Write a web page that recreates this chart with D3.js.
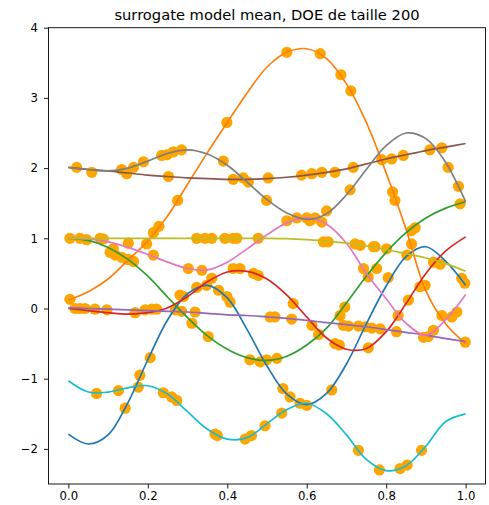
<!DOCTYPE html>
<html>
<head>
<meta charset="utf-8">
<script src="https://cdn.jsdelivr.net/npm/d3@7"></script>
<style>
  html, body { margin: 0; padding: 0; background: #fff; }
  svg { display: block; font-family: "DejaVu Sans", sans-serif; }
</style>
</head>
<body>
<svg id="chart" width="489" height="505"></svg>
<script>
// Evaluation grid of the surrogate means
const gridX = [0, 0.05, 0.1, 0.15, 0.2, 0.25, 0.3, 0.35, 0.4, 0.45, 0.5,
               0.55, 0.6, 0.65, 0.7, 0.75, 0.8, 0.85, 0.9, 0.95, 1.0];

// Predicted mean of each output on the grid
const blueMean   = [-1.79, -1.93, -1.80, -1.34, -0.73, -0.16, 0.21, 0.33, 0.15, -0.30, -0.82, -1.22, -1.37, -1.21, -0.79, -0.22, 0.32, 0.74, 0.88, 0.67, 0.33];
const orangeMean = [0.12, 0.24, 0.42, 0.69, 0.96, 1.32, 1.77, 2.22, 2.65, 3.07, 3.44, 3.65, 3.70, 3.56, 3.20, 2.65, 1.93, 1.13, 0.25, -0.22, -0.50];
const greenMean  = [1.0, 0.97, 0.87, 0.70, 0.46, 0.16, -0.13, -0.39, -0.58, -0.70, -0.74, -0.68, -0.52, -0.28, 0.08, 0.46, 0.80, 1.08, 1.29, 1.43, 1.52];
const redMean    = [0.0, -0.03, -0.06, -0.08, -0.06, 0.01, 0.17, 0.38, 0.52, 0.53, 0.42, 0.19, -0.12, -0.42, -0.58, -0.57, -0.33, 0.07, 0.50, 0.82, 1.02];
const purpleMean = [0.01, 0.0, -0.01, -0.02, -0.03, -0.04, -0.05, -0.07, -0.09, -0.10, -0.12, -0.14, -0.17, -0.20, -0.23, -0.26, -0.30, -0.34, -0.38, -0.43, -0.47];
const brownMean  = [2.01, 1.98, 1.96, 1.93, 1.90, 1.88, 1.86, 1.85, 1.84, 1.84, 1.85, 1.87, 1.90, 1.94, 1.99, 2.06, 2.13, 2.19, 2.25, 2.30, 2.35];
const pinkMean   = [1.0, 0.99, 0.95, 0.87, 0.77, 0.66, 0.57, 0.55, 0.66, 0.85, 1.05, 1.22, 1.29, 1.20, 0.93, 0.50, 0.14, -0.21, -0.38, -0.16, 0.20];
const grayMean   = [2.01, 1.98, 1.96, 2.00, 2.10, 2.21, 2.26, 2.20, 2.04, 1.80, 1.55, 1.36, 1.27, 1.35, 1.62, 1.98, 2.32, 2.50, 2.42, 2.08, 1.52];
const oliveMean  = [1.0, 1.0, 1.0, 1.0, 1.0, 1.0, 1.0, 1.0, 1.0, 1.0, 1.0, 0.995, 0.98, 0.96, 0.93, 0.89, 0.84, 0.78, 0.72, 0.64, 0.53];
const cyanMean   = [-1.03, -1.19, -1.19, -1.13, -1.10, -1.22, -1.47, -1.72, -1.86, -1.84, -1.64, -1.44, -1.35, -1.50, -1.80, -2.15, -2.31, -2.24, -1.96, -1.61, -1.50];

// Design of experiments: observed (x, y) samples of each output
const blueDoe   = [[0.143,-1.42],[0.180,-0.95],[0.206,-0.70],[0.290,0.17],[0.323,0.30],[0.348,0.33],[0.378,0.26],[0.399,0.17],[0.407,0.09],[0.540,-1.14],[0.558,-1.26],[0.663,-1.16],[0.805,0.44],[0.852,0.76],[0.990,0.43],[0.998,0.36]];
const orangeDoe = [[0.004,0.13],[0.147,0.70],[0.197,0.92],[0.214,1.08],[0.228,1.17],[0.275,1.54],[0.399,2.65],[0.550,3.65],[0.634,3.63],[0.686,3.33],[0.711,3.10],[0.816,1.66],[0.822,1.54],[0.864,0.92],[0.940,-0.10],[0.999,-0.48]];
const greenDoe  = [[0.046,0.98],[0.105,0.80],[0.113,0.85],[0.118,0.76],[0.134,0.73],[0.151,0.70],[0.164,0.67],[0.311,-0.21],[0.352,-0.40],[0.457,-0.73],[0.483,-0.76],[0.499,-0.73],[0.525,-0.71],[0.684,-0.10],[0.696,0.02],[0.776,0.57],[0.864,1.11],[0.873,1.15],[0.986,1.49]];
const redDoe    = [[0.168,-0.06],[0.193,-0.02],[0.281,0.19],[0.361,0.43],[0.415,0.57],[0.432,0.57],[0.466,0.50],[0.478,0.47],[0.566,0.07],[0.613,-0.24],[0.630,-0.37],[0.671,-0.50],[0.682,-0.52],[0.755,-0.56],[0.830,-0.10],[0.856,0.12],[0.885,0.31],[0.898,0.33]];
const purpleDoe = [[0.017,0.0],[0.029,0.0],[0.042,0.0],[0.067,-0.01],[0.097,-0.02],[0.210,-0.01],[0.222,-0.01],[0.269,-0.02],[0.285,-0.04],[0.319,-0.05],[0.508,-0.12],[0.520,-0.12],[0.562,-0.15],[0.692,-0.24],[0.705,-0.25],[0.730,-0.25],[0.747,-0.26],[0.764,-0.28],[0.785,-0.29],[0.826,-0.33]];
const brownDoe  = [[0.021,2.01],[0.059,1.94],[0.134,1.98],[0.147,1.92],[0.252,1.88],[0.415,1.84],[0.440,1.86],[0.503,1.86],[0.587,1.90],[0.613,1.92],[0.638,1.94],[0.671,1.94],[0.717,2.01],[0.789,2.12],[0.814,2.13],[0.843,2.18],[0.910,2.26],[0.940,2.29]];
const grayDoe   = [[0.164,2.01],[0.189,2.09],[0.235,2.18],[0.248,2.19],[0.264,2.23],[0.285,2.26],[0.390,2.10],[0.453,1.80],[0.499,1.54],[0.575,1.29],[0.600,1.29],[0.621,1.29],[0.650,1.39],[0.709,1.69],[0.956,2.01],[0.982,1.74]];
const pinkDoe   = [[0.151,0.93],[0.214,0.76],[0.302,0.57],[0.336,0.545],[0.550,1.25],[0.608,1.25],[0.638,1.23],[0.743,0.57],[0.755,0.45],[0.894,-0.41],[0.906,-0.40],[0.919,-0.31],[0.965,-0.12],[0.978,-0.05]];
const oliveDoe  = [[0.004,1.0],[0.029,1.0],[0.080,1.0],[0.088,0.99],[0.323,1.0],[0.344,1.0],[0.361,1.0],[0.394,1.0],[0.415,1.0],[0.424,1.0],[0.478,1.0],[0.642,0.95],[0.654,0.95],[0.722,0.92],[0.735,0.90],[0.768,0.88],[0.772,0.88],[0.801,0.85],[0.919,0.66],[0.936,0.63]];
const cyanDoe   = [[0.071,-1.21],[0.126,-1.17],[0.176,-1.12],[0.239,-1.20],[0.260,-1.26],[0.273,-1.31],[0.369,-1.79],[0.375,-1.81],[0.445,-1.86],[0.461,-1.81],[0.495,-1.67],[0.537,-1.49],[0.583,-1.35],[0.600,-1.38],[0.730,-2.02],[0.783,-2.30],[0.835,-2.28],[0.853,-2.23],[0.889,-2.02]];

const lineColors = ["#1f77b4", "#ff7f0e", "#2ca02c", "#d62728", "#9467bd",
                    "#8c564b", "#e377c2", "#7f7f7f", "#bcbd22", "#17becf"];

const xTicks = [0, 0.2, 0.4, 0.6, 0.8, 1.0];
const xTickLabels = ["0.0", "0.2", "0.4", "0.6", "0.8", "1.0"];
const yTicks = [-2, -1, 0, 1, 2, 3, 4];
const yTickLabels = ["\u22122", "\u22121", "0", "1", "2", "3", "4"];

const titleText = "surrogate model mean, DOE de taille 200";

const means = [blueMean, orangeMean, greenMean, redMean, purpleMean,
               brownMean, pinkMean, grayMean, oliveMean, cyanMean];
const does = [blueDoe, orangeDoe, greenDoe, redDoe, purpleDoe,
              brownDoe, pinkDoe, grayDoe, oliveDoe, cyanDoe];

// Layout of the axes box
const box = { left: 48.5, right: 485.5, top: 27.7, bottom: 484 };

const svg = d3.select("#chart");
const x = d3.scaleLinear().domain([-0.05, 1.05]).range([box.left, box.right]);
const y = d3.scaleLinear().domain([-2.5, 4]).range([box.bottom, box.top]);

const plot = svg.append("g");

// sample points underneath the curves
const allDoe = does.flat();
plot.append("g")
  .selectAll("circle")
  .data(allDoe)
  .join("circle")
  .attr("cx", d => x(d[0]))
  .attr("cy", d => y(d[1]))
  .attr("r", 5.6)
  .attr("fill", "#ffa500");

// surrogate mean curves
const meanLine = d3.line()
  .x((d, i) => x(gridX[i]))
  .y(d => y(d))
  .curve(d3.curveCatmullRom.alpha(0.5));

plot.append("g")
  .selectAll("path")
  .data(means)
  .join("path")
  .attr("d", d => meanLine(d))
  .attr("fill", "none")
  .attr("stroke", (d, i) => lineColors[i])
  .attr("stroke-width", 1.7);

// axes
const xAxis = d3.axisBottom(x)
  .tickValues(xTicks)
  .tickFormat((d, i) => xTickLabels[i])
  .tickSizeOuter(0)
  .tickSize(4.5)
  .tickPadding(3.5);

const yAxis = d3.axisLeft(y)
  .tickValues(yTicks)
  .tickFormat((d, i) => yTickLabels[i])
  .tickSizeOuter(0)
  .tickSize(4.5)
  .tickPadding(6);

const gx = svg.append("g").attr("transform", `translate(0,${box.bottom})`).call(xAxis);
const gy = svg.append("g").attr("transform", `translate(${box.left},0)`).call(yAxis);

[gx, gy].forEach(g => {
  g.select(".domain").remove();
  g.selectAll(".tick line").attr("stroke", "#000").attr("stroke-width", 0.9);
  g.selectAll(".tick text")
    .attr("fill", "#000")
    .style("font-family", "'DejaVu Sans', sans-serif")
    .style("font-size", "11.7px");
});

// frame
svg.append("rect")
  .attr("x", box.left)
  .attr("y", box.top)
  .attr("width", box.right - box.left)
  .attr("height", box.bottom - box.top)
  .attr("fill", "none")
  .attr("stroke", "#000")
  .attr("stroke-width", 0.9);

// title
svg.append("text")
  .attr("x", (box.left + box.right) / 2)
  .attr("y", 20)
  .attr("text-anchor", "middle")
  .attr("fill", "#000")
  .style("font-size", "14.7px")
  .text(titleText);
</script>
</body>
</html>
